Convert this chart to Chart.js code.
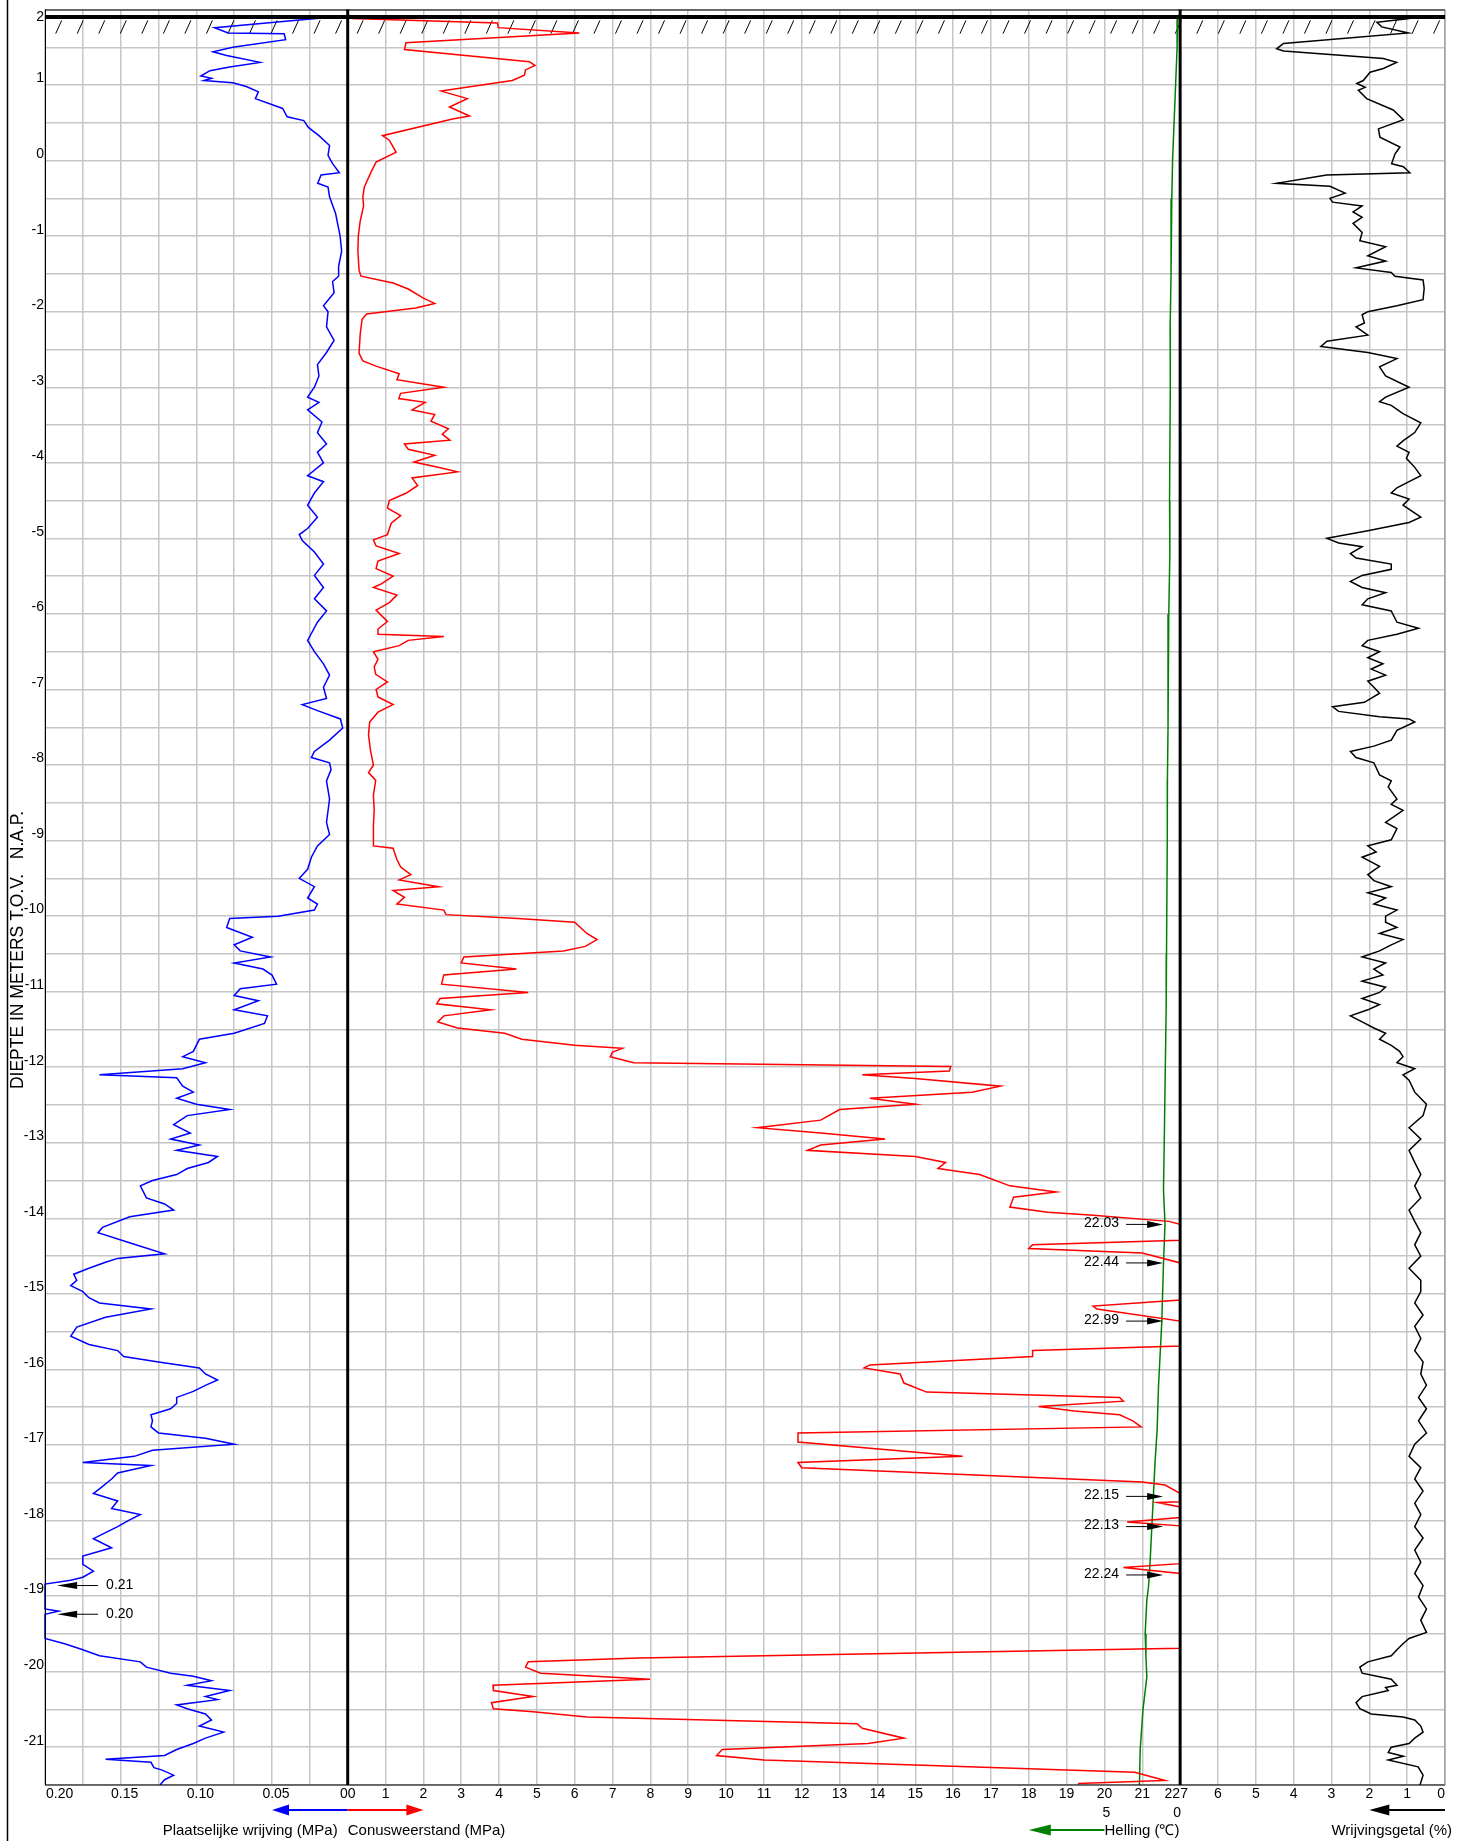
<!DOCTYPE html>
<html><head><meta charset="utf-8">
<script src="https://cdn.jsdelivr.net/npm/chart.js@4/dist/chart.umd.min.js"></script>
<style>html,body{margin:0;padding:0;background:#fff;}canvas{display:block;}</style>
</head><body>
<canvas id="c" width="1457" height="1841"></canvas>
<script>
// ---------- DATA (depth in m NAP) ----------
const surfaceLevel = 1.9;

const coneDepth = [1.90,1.88,1.82,1.76,1.69,1.56,1.47,1.31,1.26,1.20,
 1.13,1.06,0.92,0.82,0.71,0.59,0.55,0.33,0.27,0.11,
 -0.02,-0.15,-0.35,-0.48,-0.60,-0.80,-1.00,-1.20,-1.45,-1.53,
 -1.62,-1.70,-1.82,-1.89,-1.95,-2.03,-2.10,-2.30,-2.55,-2.65,
 -2.72,-2.82,-2.90,-3.00,-3.08,-3.15,-3.20,-3.30,-3.36,-3.45,
 -3.55,-3.62,-3.70,-3.75,-3.82,-3.90,-3.99,-4.05,-4.12,-4.20,
 -4.30,-4.40,-4.50,-4.60,-4.70,-4.80,-4.95,-5.02,-5.10,-5.20,
 -5.30,-5.40,-5.50,-5.60,-5.65,-5.75,-5.85,-5.95,-6.10,-6.20,
 -6.27,-6.30,-6.35,-6.42,-6.50,-6.60,-6.70,-6.80,-6.90,-7.00,
 -7.10,-7.20,-7.30,-7.43,-7.60,-7.80,-8.00,-8.10,-8.20,-8.40,
 -8.60,-8.80,-9.07,-9.10,-9.25,-9.35,-9.45,-9.52,-9.61,-9.66,
 -9.75,-9.84,-9.92,-9.98,-10.03,-10.08,-10.23,-10.31,-10.40,-10.46,
 -10.54,-10.62,-10.70,-10.78,-10.90,-11.01,-11.09,-11.16,-11.24,-11.32,
 -11.40,-11.48,-11.55,-11.63,-11.71,-11.75,-11.80,-11.86,-11.94,-11.99,
 -12.05,-12.10,-12.15,-12.25,-12.33,-12.41,-12.49,-12.56,-12.70,-12.80,
 -12.87,-12.95,-13.03,-13.10,-13.18,-13.26,-13.34,-13.42,-13.57,-13.65,
 -13.72,-13.85,-13.92,-13.96,-14.04,-14.08,-14.29,-14.35,-14.40,-14.46,
 -14.59,-15.08,-15.16,-15.20,-15.36,-15.69,-15.75,-15.83,-15.94,-15.98,
 -16.06,-16.18,-16.30,-16.37,-16.42,-16.49,-16.55,-16.60,-16.68,-16.76,
 -16.84,-16.96,-17.15,-17.23,-17.30,-17.49,-17.53,-17.64,-17.75,-17.76,
 -17.82,-17.96,-18.02,-18.07,-18.57,-18.62,-18.70,-19.69,-19.82,-19.87,
 -19.94,-20.02,-20.10,-20.18,-20.25,-20.33,-20.41,-20.49,-20.53,-20.60,
 -20.69,-20.75,-20.88,-20.95,-21.03,-21.11,-21.17,-21.33,-21.44,-21.48];
const coneQc = [0.10,0.12,3.96,3.98,6.12,1.54,1.50,4.80,4.95,4.70,
 4.67,4.35,2.47,3.16,2.69,3.22,2.77,0.92,1.10,1.28,
 0.75,0.62,0.44,0.40,0.42,0.33,0.28,0.27,0.30,0.35,
 1.20,1.60,2.00,2.30,1.80,0.50,0.38,0.33,0.30,0.40,
 0.75,1.36,1.30,2.54,1.40,1.35,2.05,1.70,2.30,2.20,
 2.66,2.50,2.70,1.50,1.60,2.30,1.75,2.30,2.90,1.70,
 1.85,1.55,1.10,1.05,1.40,1.15,1.05,0.68,0.75,1.36,
 0.80,0.75,1.20,0.90,0.68,1.30,1.10,0.75,1.05,0.80,
 0.80,2.54,1.60,1.36,0.68,0.80,0.70,0.74,1.05,0.75,
 0.80,1.20,0.80,0.58,0.55,0.60,0.68,0.55,0.74,0.68,
 0.70,0.68,0.68,1.20,1.30,1.40,1.67,1.36,2.40,1.20,
 1.50,1.30,2.54,2.60,4.50,6.00,6.32,6.59,6.28,5.70,
 3.07,3.00,4.46,2.54,2.48,4.77,2.44,2.35,3.78,2.54,
 2.38,2.90,4.15,4.60,6.00,7.26,7.00,6.94,7.56,15.94,
 15.90,13.60,15.00,17.25,16.50,13.80,15.00,13.00,12.50,10.83,
 12.50,14.20,12.50,12.15,15.00,15.80,15.60,16.70,17.50,18.72,
 17.60,17.50,18.50,19.70,21.70,22.00,22.00,18.10,18.00,21.00,
 22.00,22.00,19.70,19.80,22.00,22.00,18.10,18.10,13.80,13.65,
 14.60,14.70,15.30,20.40,20.50,18.26,19.20,20.40,20.75,20.97,
 11.90,11.90,16.25,11.90,12.00,21.00,21.60,22.00,22.00,21.40,
 22.00,22.00,20.60,22.00,22.00,20.50,22.00,22.00,7.70,4.77,
 4.70,5.10,7.99,3.84,3.85,4.90,3.80,3.85,4.90,6.32,
 13.46,13.60,14.70,13.75,9.90,9.75,11.00,20.80,21.60,19.30];

const fricDepth = [1.90,1.88,1.76,1.69,1.68,1.60,1.50,1.44,1.39,1.30,
 1.24,1.19,1.12,1.09,1.06,1.03,0.98,0.91,0.82,0.69,
 0.58,0.53,0.44,0.33,0.20,0.07,-0.04,-0.16,-0.19,-0.30,
 -0.35,-0.48,-0.70,-1.00,-1.20,-1.40,-1.53,-1.60,-1.75,-1.92,
 -2.00,-2.20,-2.38,-2.54,-2.70,-2.85,-3.00,-3.13,-3.20,-3.30,
 -3.46,-3.60,-3.75,-3.86,-4.00,-4.17,-4.25,-4.40,-4.56,-4.72,
 -4.87,-4.95,-5.03,-5.18,-5.34,-5.49,-5.65,-5.80,-5.96,-6.11,
 -6.35,-6.50,-6.66,-6.81,-6.97,-7.12,-7.20,-7.28,-7.39,-7.51,
 -7.67,-7.82,-7.90,-7.97,-8.06,-8.21,-8.45,-8.76,-8.92,-9.07,
 -9.22,-9.38,-9.50,-9.61,-9.76,-9.84,-9.92,-10.00,-10.03,-10.15,
 -10.28,-10.38,-10.46,-10.54,-10.62,-10.70,-10.78,-10.90,-10.96,-11.05,
 -11.12,-11.24,-11.32,-11.42,-11.55,-11.63,-11.79,-11.86,-11.94,-12.02,
 -12.10,-12.14,-12.25,-12.33,-12.41,-12.49,-12.56,-12.64,-12.76,-12.87,
 -12.95,-13.03,-13.10,-13.18,-13.26,-13.34,-13.42,-13.50,-13.57,-13.73,
 -13.81,-13.89,-13.98,-14.12,-14.19,-14.35,-14.47,-14.53,-14.58,-14.66,
 -14.74,-14.82,-14.89,-14.97,-15.05,-15.12,-15.20,-15.31,-15.44,-15.56,
 -15.67,-15.75,-15.83,-15.90,-15.98,-16.06,-16.14,-16.21,-16.29,-16.37,
 -16.45,-16.52,-16.60,-16.68,-16.76,-16.84,-16.91,-16.99,-17.07,-17.15,
 -17.23,-17.27,-17.37,-17.45,-17.58,-17.64,-17.74,-17.84,-17.92,-18.00,
 -18.08,-18.16,-18.24,-18.36,-18.47,-18.58,-18.67,-18.75,-18.79,-18.84,
 -19.17,-19.20,-19.24,-19.56,-19.63,-19.71,-19.79,-19.87,-19.94,-20.02,
 -20.06,-20.12,-20.18,-20.21,-20.25,-20.33,-20.37,-20.44,-20.49,-20.56,
 -20.64,-20.72,-20.80,-20.88,-20.95,-21.03,-21.11,-21.16,-21.20,-21.27,
 -21.30,-21.37,-21.43,-21.50];
const fricFs = [0.000,0.021,0.088,0.079,0.042,0.041,0.076,0.089,0.080,0.058,
 0.078,0.091,0.097,0.090,0.095,0.076,0.067,0.059,0.061,0.043,
 0.040,0.029,0.026,0.019,0.012,0.013,0.010,0.0055,0.0176,0.0198,
 0.013,0.012,0.008,0.005,0.004,0.006,0.006,0.010,0.009,0.016,
 0.013,0.014,0.009,0.014,0.020,0.019,0.022,0.0265,0.019,0.0265,
 0.017,0.020,0.014,0.020,0.016,0.0265,0.016,0.022,0.0265,0.020,
 0.0265,0.032,0.030,0.022,0.016,0.022,0.016,0.022,0.014,0.020,
 0.0265,0.022,0.016,0.012,0.016,0.014,0.030,0.020,0.0048,0.0033,
 0.012,0.022,0.024,0.012,0.011,0.014,0.012,0.014,0.012,0.020,
 0.024,0.0265,0.032,0.022,0.0265,0.020,0.022,0.046,0.078,0.080,
 0.063,0.075,0.071,0.051,0.075,0.056,0.050,0.047,0.071,0.075,
 0.059,0.075,0.053,0.055,0.075,0.098,0.102,0.109,0.094,0.109,
 0.164,0.113,0.109,0.102,0.113,0.100,0.078,0.106,0.115,0.104,
 0.117,0.098,0.113,0.086,0.092,0.106,0.113,0.129,0.137,0.133,
 0.121,0.115,0.144,0.162,0.165,0.140,0.121,0.152,0.160,0.171,
 0.181,0.179,0.183,0.175,0.171,0.164,0.130,0.160,0.179,0.183,
 0.171,0.152,0.148,0.125,0.098,0.094,0.086,0.094,0.102,0.113,
 0.113,0.117,0.130,0.129,0.130,0.125,0.094,0.075,0.129,0.141,
 0.175,0.130,0.152,0.156,0.164,0.168,0.152,0.156,0.137,0.145,
 0.152,0.160,0.168,0.156,0.175,0.175,0.168,0.175,0.183,0.200,
 0.200,0.191,0.200,0.200,0.187,0.175,0.164,0.137,0.133,0.117,
 0.102,0.090,0.106,0.094,0.078,0.094,0.086,0.113,0.106,0.094,
 0.090,0.098,0.082,0.094,0.102,0.113,0.121,0.160,0.130,0.128,
 0.123,0.115,0.121,0.124];

const ratioDepth = [1.90,1.88,1.83,1.77,1.69,1.55,1.48,1.45,1.35,1.30,
 1.22,1.17,1.06,1.02,0.97,0.93,0.82,0.67,0.54,0.42,
 0.31,0.18,0.09,-0.04,-0.08,-0.16,-0.19,-0.30,-0.34,-0.43,
 -0.50,-0.55,-0.60,-0.68,-0.75,-0.83,-0.95,-1.06,-1.14,-1.26,
 -1.33,-1.42,-1.48,-1.53,-1.58,-1.69,-1.84,-1.92,-2.00,-2.04,
 -2.15,-2.20,-2.31,-2.39,-2.46,-2.54,-2.62,-2.73,-2.85,-3.00,
 -3.13,-3.19,-3.24,-3.35,-3.47,-3.60,-3.71,-3.78,-3.86,-3.94,
 -4.06,-4.17,-4.25,-4.33,-4.40,-4.48,-4.56,-4.72,-4.79,-4.90,
 -5.00,-5.06,-5.11,-5.20,-5.26,-5.34,-5.41,-5.49,-5.57,-5.65,
 -5.72,-5.80,-5.88,-5.96,-6.11,-6.19,-6.27,-6.35,-6.42,-6.50,
 -6.58,-6.66,-6.73,-6.81,-6.89,-6.97,-7.05,-7.17,-7.23,-7.29,
 -7.36,-7.39,-7.43,-7.54,-7.67,-7.75,-7.82,-7.90,-7.97,-8.13,
 -8.21,-8.29,-8.45,-8.52,-8.60,-8.76,-8.84,-8.99,-9.07,-9.15,
 -9.22,-9.34,-9.45,-9.53,-9.61,-9.69,-9.76,-9.84,-9.92,-10.00,
 -10.08,-10.15,-10.23,-10.31,-10.38,-10.46,-10.54,-10.62,-10.70,-10.78,
 -10.86,-10.94,-11.01,-11.09,-11.17,-11.24,-11.32,-11.40,-11.48,-11.55,
 -11.63,-11.71,-11.79,-11.86,-11.94,-12.02,-12.10,-12.17,-12.33,-12.49,
 -12.64,-12.80,-12.95,-13.10,-13.26,-13.42,-13.57,-13.73,-13.89,-14.04,
 -14.19,-14.35,-14.50,-14.66,-14.82,-14.97,-15.12,-15.28,-15.43,-15.59,
 -15.75,-15.90,-16.06,-16.21,-16.37,-16.52,-16.68,-16.84,-16.99,-17.15,
 -17.30,-17.45,-17.61,-17.77,-17.92,-18.08,-18.23,-18.39,-18.55,-18.70,
 -18.86,-19.01,-19.17,-19.32,-19.48,-19.56,-19.63,-19.71,-19.79,-19.87,
 -19.94,-20.02,-20.10,-20.18,-20.21,-20.25,-20.33,-20.41,-20.49,-20.56,
 -20.60,-20.64,-20.72,-20.80,-20.88,-20.95,-21.00,-21.07,-21.12,-21.17,
 -21.26,-21.37,-21.50];
const ratioRf = [1.00,0.97,1.80,1.67,0.97,4.27,4.45,4.27,1.63,1.28,
 1.63,1.98,2.16,2.33,2.11,2.29,2.07,1.37,1.10,1.76,
 1.72,1.19,1.32,1.41,1.10,0.93,3.13,4.45,3.04,2.64,
 3.04,2.97,2.19,2.43,2.19,2.43,2.19,2.25,1.57,2.04,
 1.57,2.35,1.42,1.32,0.58,0.55,0.58,1.27,2.04,2.19,
 2.13,2.35,2.04,3.12,3.28,2.04,1.27,1.73,1.57,0.95,
 1.57,1.73,1.42,1.11,0.64,0.80,1.11,1.27,0.95,1.02,
 0.80,0.64,0.95,1.27,1.42,0.95,1.11,0.64,0.95,2.04,
 3.12,2.81,2.19,2.50,2.35,1.42,1.42,2.19,2.50,2.19,
 1.57,2.04,2.19,1.42,1.27,0.70,1.27,2.04,2.19,1.73,
 2.04,1.64,1.95,1.57,2.04,1.88,1.73,2.13,2.97,2.81,
 1.73,0.95,0.80,1.27,1.42,1.88,2.50,2.35,1.88,1.73,
 1.42,1.50,1.27,1.42,1.11,1.57,1.27,1.42,2.04,1.82,
 2.19,1.73,2.04,1.88,1.42,2.04,1.57,1.88,1.27,1.57,
 1.57,1.27,1.73,1.11,1.42,1.73,2.19,1.57,1.88,1.64,
 2.19,1.57,1.73,2.19,1.73,2.04,2.50,2.19,1.88,1.57,
 1.73,1.42,1.20,1.11,1.27,0.80,1.11,0.95,0.80,0.49,
 0.58,0.95,0.64,0.95,0.80,0.64,0.80,0.64,0.95,0.80,
 0.64,0.80,0.64,0.95,0.64,0.64,0.80,0.58,0.80,0.64,
 0.80,0.58,0.64,0.49,0.70,0.49,0.70,0.49,0.80,0.95,
 0.64,0.80,0.58,0.80,0.64,0.80,0.58,0.80,0.64,0.80,
 0.58,0.70,0.49,0.64,0.49,0.95,1.11,1.27,1.42,2.04,
 2.25,2.19,1.42,1.27,1.57,1.50,2.19,2.35,2.25,1.95,
 1.11,0.80,0.64,0.58,0.80,0.95,1.42,1.50,1.10,1.50,
 0.71,0.58,0.66];

const tiltDepth = [1.90,1.50,1.00,0.50,0.00,-0.50,-1.50,-2.20,-3.00,-4.50,
 -5.20,-6.00,-7.50,-8.20,-9.00,-10.50,-11.20,-12.00,-13.00,-13.63,
 -14.07,-14.60,-15.36,-16.23,-16.80,-17.20,-17.64,-18.53,-18.88,-19.05,
 -19.50,-19.80,-20.07,-20.51,-21.04,-21.50];
const tiltDeg = [0.15,0.20,0.30,0.40,0.50,0.55,0.60,0.66,0.65,0.70,
 0.68,0.75,0.80,0.84,0.85,0.90,0.92,0.98,1.05,1.10,
 1.00,1.10,1.21,1.43,1.52,1.65,1.76,1.98,2.09,2.20,
 2.31,2.26,2.20,2.46,2.64,2.69];

// annotations of values beyond the axis range
const noteRightDepth = [-14.08,-14.59,-15.36,-17.68,-18.08,-18.72];
const noteRightText = ["22.03","22.44","22.99","22.15","22.13","22.24"];
const noteLeftDepth = [-18.86,-19.24];
const noteLeftText = ["0.21","0.20"];

// tick labels
const fricTicks = [0.20,0.15,0.10,0.05,0];
const fricTickLabels = ["0.20","0.15","0.10","0.05","0"];
const coneTicks = [0,1,2,3,4,5,6,7,8,9,10,11,12,13,14,15,16,17,18,19,20,21,22];
const ratioTicks = [7,6,5,4,3,2,1,0];
const tiltTicks = [5,0];

// ---------- CHART ----------
const FONT = '"Liberation Sans", Arial, Helvetica, sans-serif';
Chart.defaults.font.family = FONT;
const pts = (d, v) => d.map((y, i) => ({x: v[i], y}));
const line = (label, d, v, axis, color, clip) => ({
  type: 'scatter', label, data: pts(d, v), xAxisID: axis, yAxisID: 'y',
  showLine: true, borderColor: color, backgroundColor: color, borderWidth: 1.5,
  pointRadius: 0, pointHoverRadius: 0, tension: 0, fill: false,
  clip: clip || 1
});

function arrow(ctx, xTail, y, xTip, color, headLen, halfH, lw) {
  const dir = Math.sign(xTip - xTail);
  ctx.strokeStyle = color; ctx.fillStyle = color; ctx.lineWidth = lw;
  ctx.beginPath(); ctx.moveTo(xTail, y); ctx.lineTo(xTip - dir * headLen * 0.6, y); ctx.stroke();
  ctx.beginPath(); ctx.moveTo(xTip, y);
  ctx.lineTo(xTip - dir * headLen, y - halfH); ctx.lineTo(xTip - dir * headLen, y + halfH);
  ctx.closePath(); ctx.fill();
}

const overlay = {
  id: 'overlay',
  beforeDatasetsDraw(chart) {
    const {ctx, chartArea: a, scales} = chart;
    const ys = scales.y.getPixelForValue(surfaceLevel);
    ctx.save();
    ctx.strokeStyle = '#000'; ctx.lineWidth = 1;
    const step = 21.53;
    for (let x0 = a.left + 10.7; x0 < a.right - 8; x0 += step) {
      ctx.beginPath(); ctx.moveTo(x0, ys + 16.6); ctx.lineTo(x0 + 6, ys + 3.3); ctx.stroke();
    }
    ctx.restore();
  },
  afterDatasetsDraw(chart) {
    const {ctx, chartArea: a, scales} = chart;
    const {y, xf, xc, xr, xh} = scales;
    ctx.save();
    // outer page line
    ctx.strokeStyle = '#000'; ctx.lineWidth = 1.5;
    ctx.beginPath(); ctx.moveTo(7.5, 0); ctx.lineTo(7.5, chart.height); ctx.stroke();
    // frame
    ctx.lineWidth = 1;
    ctx.beginPath(); ctx.moveTo(a.left, a.top + 0.5); ctx.lineTo(a.right, a.top + 0.5); ctx.stroke();
    ctx.beginPath(); ctx.moveTo(a.left + 0.5, a.top); ctx.lineTo(a.left + 0.5, a.bottom); ctx.stroke();
    ctx.beginPath(); ctx.moveTo(a.left, a.bottom); ctx.lineTo(a.right, a.bottom); ctx.stroke();
    ctx.strokeStyle = '#8a8a8a';
    ctx.beginPath(); ctx.moveTo(a.right, a.top); ctx.lineTo(a.right, a.bottom); ctx.stroke();
    // surface line
    ctx.strokeStyle = '#000'; ctx.lineWidth = 4;
    const ys = y.getPixelForValue(surfaceLevel);
    ctx.beginPath(); ctx.moveTo(a.left, ys); ctx.lineTo(a.right, ys); ctx.stroke();
    // thick panel separators
    ctx.lineWidth = 3;
    [xc.getPixelForValue(0), xc.getPixelForValue(22)].forEach(x => {
      ctx.beginPath(); ctx.moveTo(x, a.top); ctx.lineTo(x, a.bottom); ctx.stroke();
    });
    // depth labels
    ctx.fillStyle = '#000'; ctx.font = '14px ' + FONT;
    ctx.textAlign = 'right'; ctx.textBaseline = 'middle';
    y.ticks.forEach(t => {
      if (Math.abs(t.value - Math.round(t.value)) > 1e-6) return;
      const py = y.getPixelForValue(t.value);
      const off = t.value >= 2 ? 7.4 : -6.5;
      ctx.fillText(String(Math.round(t.value)), a.left - 1, py + off);
    });
    // bottom tick labels
    const ty = a.bottom + 9;
    fricTicks.forEach((v, i) => {
      const x = xf.getPixelForValue(v);
      if (v === 0) { ctx.textAlign = 'right'; ctx.fillText(fricTickLabels[i], x, ty); }
      else if (v >= 0.2) { ctx.textAlign = 'left'; ctx.fillText(fricTickLabels[i], a.left + 1, ty); }
      else { ctx.textAlign = 'center'; ctx.fillText(fricTickLabels[i], x + 4, ty); }
    });
    coneTicks.forEach(v => {
      const x = xc.getPixelForValue(v);
      ctx.textAlign = v === 0 ? 'left' : (v === 22 ? 'right' : 'center');
      ctx.fillText(String(v), x, ty);
    });
    ratioTicks.forEach(v => {
      const x = xr.getPixelForValue(v);
      if (v === 7) { ctx.textAlign = 'left'; ctx.fillText('7', x, ty); }
      else if (v === 0) { ctx.textAlign = 'right'; ctx.fillText('0', x, ty); }
      else { ctx.textAlign = 'center'; ctx.fillText(String(v), x, ty); }
    });
    tiltTicks.forEach(v => {
      const x = xh.getPixelForValue(v);
      if (v === 0) { ctx.textAlign = 'right'; ctx.fillText('0', x + 1, ty + 19); }
      else { ctx.textAlign = 'center'; ctx.fillText(String(v), x + 2, ty + 19); }
    });
    // annotations
    ctx.textBaseline = 'middle';
    noteRightDepth.forEach((d, i) => {
      const py = y.getPixelForValue(d);
      const tip = xc.getPixelForValue(21.55);
      arrow(ctx, tip - 37, py, tip, '#000', 16, 3.5, 1);
      ctx.fillStyle = '#000'; ctx.textAlign = 'right';
      ctx.fillText(noteRightText[i], tip - 44, py - 1);
    });
    noteLeftDepth.forEach((d, i) => {
      const py = y.getPixelForValue(d);
      const tip = xf.getPixelForValue(0.192);
      arrow(ctx, tip + 41, py, tip, '#000', 20, 3.5, 1);
      ctx.fillStyle = '#000'; ctx.textAlign = 'left';
      ctx.fillText(noteLeftText[i], tip + 49, py);
    });
    // legend arrows and titles
    const ay = a.bottom + 25, ly = a.bottom + 46;
    arrow(ctx, xc.getPixelForValue(0), ay, xf.getPixelForValue(0.05), '#0000ff', 17, 5.5, 2);
    arrow(ctx, xc.getPixelForValue(0), ay, xc.getPixelForValue(2), '#ff0000', 17, 5.5, 2);
    arrow(ctx, xh.getPixelForValue(5), ly - 1, xh.getPixelForValue(10), '#008000', 22, 5.5, 2);
    arrow(ctx, xr.getPixelForValue(0), ay, xr.getPixelForValue(2), '#000', 20, 5.5, 2);
    ctx.fillStyle = '#000'; ctx.font = '15px ' + FONT;
    ctx.textAlign = 'right'; ctx.fillText('Plaatselijke wrijving (MPa)', xc.getPixelForValue(0) - 10, ly);
    ctx.textAlign = 'left'; ctx.fillText('Conusweerstand (MPa)', xc.getPixelForValue(0), ly);
    ctx.textAlign = 'left'; ctx.fillText('Helling (\u2103)', xh.getPixelForValue(5), ly);
    ctx.textAlign = 'right'; ctx.fillText('Wrijvingsgetal (%)', a.right + 7, ly);
    // vertical title
    ctx.translate(18, 950); ctx.rotate(-Math.PI / 2);
    ctx.textAlign = 'center'; ctx.font = '17.5px ' + FONT;
    ctx.fillText('DIEPTE IN METERS T.O.V.   N.A.P.', 0, 0);
    ctx.restore();
  }
};

new Chart(document.getElementById('c'), {
  data: {
    datasets: [
      line('Plaatselijke wrijving (MPa)', fricDepth, fricFs, 'xf', '#0000ff', {left: 3, top: 0, right: 0, bottom: 0}),
      line('Conusweerstand (MPa)', coneDepth, coneQc, 'xc', '#ff0000'),
      line('Helling', tiltDepth, tiltDeg, 'xh', '#008000'),
      line('Wrijvingsgetal (%)', ratioDepth, ratioRf, 'xr', '#000000')
    ]
  },
  options: {
    responsive: false, animation: false, devicePixelRatio: 1, events: [],
    layout: {padding: {left: 45, top: 9.5, right: 12, bottom: 56}},
    plugins: {legend: {display: false}, tooltip: {enabled: false}},
    scales: {
      x: {type: 'linear', position: 'bottom', min: 0, max: 37,
          ticks: {display: false, stepSize: 1}, grid: {color: '#c6c6c6', lineWidth: 1.5, drawTicks: false},
          border: {display: false}},
      xf: {type: 'linear', display: false, reverse: true, min: -0.725, max: 0.2},
      xc: {type: 'linear', display: false, min: -8, max: 29},
      xr: {type: 'linear', display: false, reverse: true, min: 0, max: 37},
      xh: {type: 'linear', display: false, reverse: true, min: -17.5, max: 75},
      y: {type: 'linear', position: 'left', min: -21.5, max: 2,
          ticks: {display: false, stepSize: 0.5}, grid: {color: '#c6c6c6', lineWidth: 1.5, drawTicks: false},
          border: {display: false}}
    }
  },
  plugins: [overlay]
});
</script>
</body></html>
